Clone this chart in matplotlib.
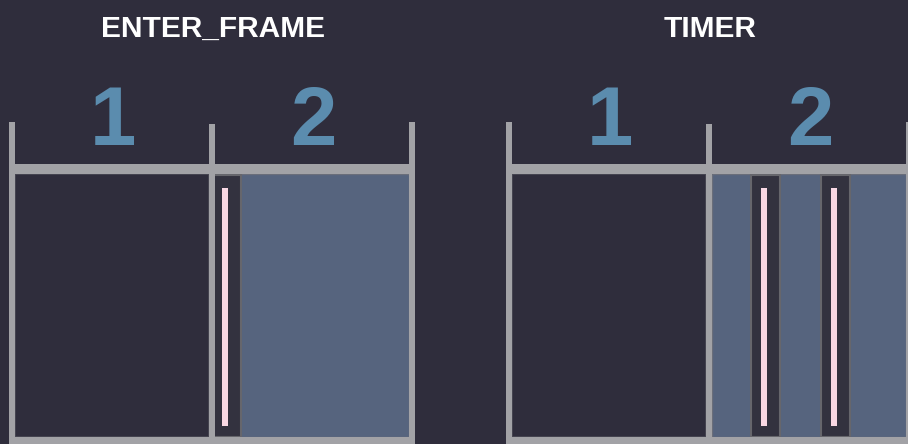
import matplotlib
matplotlib.use("Agg")
import matplotlib.pyplot as plt
from matplotlib.patches import Rectangle

# ---- content ----
titles = ["ENTER_FRAME", "TIMER"]
frame_labels = ["1", "2"]
# number of event-handler calls drawn inside frame 2 for each mode
events_in_frame2 = [1, 2]

# ---- style ----
BG = "#2f2d3c"
GRAY = "#a2a2a6"
BLUE = "#56647e"
SLOT = "#33323f"
SLOT_EDGE = "#66666c"
PINK = "#f9d8e4"
DIGIT = "#5b8cae"

W, H = 908, 444
fig = plt.figure(figsize=(W / 100, H / 100), dpi=100, facecolor=BG)
ax = fig.add_axes([0, 0, 1, 1])
ax.set_xlim(0, W)
ax.set_ylim(H, 0)
ax.axis("off")
ax.set_facecolor(BG)

def rect(x0, y0, x1, y1, fc, ec="none", lw=0, z=1):
    ax.add_patch(Rectangle((x0, y0), x1 - x0, y1 - y0, facecolor=fc,
                           edgecolor=ec, linewidth=lw, zorder=z))

diagram_left = [12, 509]
frame_w = 200
lw_v = 6
bar_top, bar_bot = 164, 174
floor_top = 437

slot_layouts = [[212], [751, 821]]
slot_w = 29

for d, (x0, title, nev) in enumerate(zip(diagram_left, titles, events_in_frame2)):
    xs = [x0 + i * frame_w for i in range(3)]
    # frame 1 panel (dark with faint outline)
    rect(xs[0] + 3, bar_bot, xs[1] - 3, floor_top, BG, ec="#4a4955", lw=1.2, z=1)
    # frame 2 panel blue
    rect(xs[1] + 3, bar_bot, xs[2] - 3, floor_top, BLUE, ec="#6a6e7a", lw=1.0, z=1)
    # slots (rendering gaps) with pink handler bar
    for sx in slot_layouts[d][:max(nev, 1)]:
        rect(sx, bar_bot + 1, sx + slot_w, floor_top, SLOT, ec=SLOT_EDGE, lw=1.5, z=2)
        rect(sx + 10, 188, sx + 16, 426, PINK, z=3)
    # verticals
    tops = [122, 124, 122]
    for xv, t in zip(xs, tops):
        rect(xv - lw_v / 2, t, xv + lw_v / 2, H, GRAY, z=4)
    # horizontal bars
    rect(xs[0] - 3, bar_top, xs[2] + 3, bar_bot, GRAY, z=4)
    rect(xs[0] - 3, floor_top, xs[2] + 3, H, GRAY, z=4)
    # digits
    for i, lab in enumerate(frame_labels):
        cx = (xs[i] + xs[i + 1]) / 2 + 1
        ax.text(cx, 145, lab, color=DIGIT, fontsize=60, fontweight="bold",
                family=["Liberation Sans"], ha="center",
                va="baseline", zorder=5)
    # title
    ax.text((xs[0] + xs[2]) / 2 + 1, 37, title, color="white", fontsize=21.5,
            fontweight="bold", family=["Liberation Sans"],
            ha="center", va="baseline", zorder=5)

fig.savefig("out.png", dpi=100, facecolor=BG)
